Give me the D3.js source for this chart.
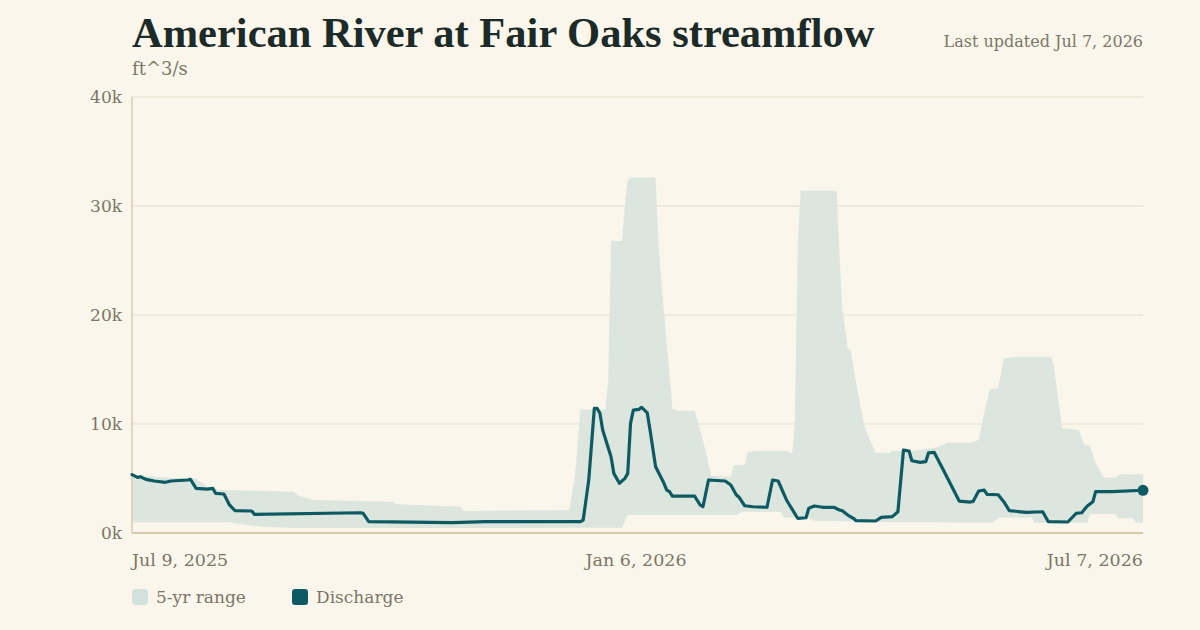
<!DOCTYPE html>
<html>
<head>
<meta charset="utf-8">
<script src="https://cdn.jsdelivr.net/npm/d3@7"></script>
<style>
  html, body { margin: 0; padding: 0; background: #faf6ec; }
  svg { display: block; }
</style>
</head>
<body>
<svg id="chart" width="1200" height="630"></svg>
<script>
// Discharge (ft^3/s)
const dischargeDates = [
  "2025-07-09","2025-07-11","2025-07-12","2025-07-14","2025-07-17","2025-07-21","2025-07-23","2025-07-29",
  "2025-07-30","2025-08-01","2025-08-05","2025-08-07","2025-08-08","2025-08-11","2025-08-13","2025-08-15",
  "2025-08-21","2025-08-22","2025-09-29","2025-09-30","2025-10-02","2025-11-01","2025-11-13","2025-12-17",
  "2025-12-18","2025-12-20","2025-12-22","2025-12-23","2025-12-24","2025-12-25","2025-12-28","2025-12-29",
  "2025-12-31","2026-01-02","2026-01-03","2026-01-04","2026-01-05","2026-01-07","2026-01-08","2026-01-10",
  "2026-01-11","2026-01-13","2026-01-16","2026-01-17","2026-01-18","2026-01-19","2026-01-27","2026-01-29",
  "2026-01-30","2026-02-01","2026-02-07","2026-02-09","2026-02-11","2026-02-12","2026-02-14","2026-02-17",
  "2026-02-22","2026-02-24","2026-02-26","2026-03-01","2026-03-05","2026-03-08","2026-03-09","2026-03-11",
  "2026-03-14","2026-03-18","2026-03-20","2026-03-21","2026-03-23","2026-03-25","2026-03-26","2026-04-02",
  "2026-04-04","2026-04-08","2026-04-10","2026-04-12","2026-04-14","2026-04-15","2026-04-18","2026-04-20",
  "2026-04-21","2026-04-23","2026-04-26","2026-05-02","2026-05-06","2026-05-07","2026-05-09","2026-05-11",
  "2026-05-12","2026-05-16","2026-05-18","2026-05-20","2026-05-26","2026-06-01","2026-06-03","2026-06-10",
  "2026-06-13","2026-06-15","2026-06-17","2026-06-19","2026-06-20","2026-06-26","2026-07-07"
];
const dischargeValues = [
  5350,5100,5160,4920,4770,4650,4770,4860,
  4920,4100,4030,4100,3640,3580,2570,2050,
  2020,1710,1860,1800,1040,950,1040,1040,
  1190,4860,11430,11430,10980,9440,7000,5470,
  4560,5010,5470,10060,11280,11340,11530,11030,
  9440,6080,4560,3940,3790,3390,3390,2570,
  2410,4860,4770,4400,3480,3270,2500,2410,
  2360,4860,4770,3030,1350,1400,2270,2480,
  2360,2360,2110,2050,1650,1350,1130,1100,
  1440,1500,1950,7610,7520,6630,6480,6540,
  7360,7400,5930,2930,2840,2900,3850,3940,
  3550,3510,2870,2050,1900,1950,1040,1010,
  1800,1860,2480,2870,3790,3790,3920
];

// 5-yr range, upper edge
const rangeHighDates = [
  "2025-07-09","2025-07-15","2025-07-24","2025-08-01","2025-08-05","2025-08-09","2025-09-05","2025-09-07",
  "2025-09-12","2025-10-11","2025-10-12","2025-11-04","2025-11-05","2025-12-13","2025-12-14","2025-12-15",
  "2025-12-17","2025-12-26","2025-12-27","2025-12-28","2026-01-01","2026-01-02","2026-01-03","2026-01-04",
  "2026-01-13","2026-01-14","2026-01-16","2026-01-18","2026-01-19","2026-01-21","2026-01-27","2026-01-30",
  "2026-02-02","2026-02-09","2026-02-10","2026-02-14","2026-02-15","2026-02-18","2026-03-01","2026-03-03",
  "2026-03-04","2026-03-05","2026-03-06","2026-03-19","2026-03-20","2026-03-21","2026-03-23","2026-03-24",
  "2026-03-26","2026-03-29","2026-03-31","2026-04-02","2026-04-07","2026-04-08","2026-04-15","2026-04-24",
  "2026-04-28","2026-05-06","2026-05-09","2026-05-11","2026-05-13","2026-05-16","2026-05-18","2026-05-23",
  "2026-06-04","2026-06-05","2026-06-08","2026-06-14","2026-06-16","2026-06-18","2026-06-20","2026-06-23",
  "2026-06-27","2026-06-29","2026-07-07"
];
const rangeHighValues = [
  5300,5200,5050,5010,4250,3940,3790,3390,
  3030,2870,2630,2410,2020,2110,3640,5160,
  11340,11340,14030,26800,26800,30230,32370,32620,
  32620,26570,20150,14650,11430,11220,11220,8530,
  5230,5160,6240,6240,7400,7520,7520,7310,
  10360,25650,31390,31390,25650,20750,16940,16780,
  13730,9750,8530,7360,7360,7520,7520,7860,
  8280,8280,8530,10980,13180,13270,16020,16170,
  16170,15250,9600,9440,8070,7980,6390,5070,
  5070,5380,5380
];

// 5-yr range, lower edge
const rangeLowDates = [
  "2025-07-09","2025-08-13","2025-08-17","2025-08-25","2025-09-05","2026-01-01","2026-01-03","2026-02-11",
  "2026-02-13","2026-02-27","2026-02-28","2026-03-09","2026-03-11","2026-04-04","2026-05-14","2026-05-16",
  "2026-05-28","2026-05-29","2026-06-17","2026-06-18","2026-06-27","2026-06-28","2026-07-03","2026-07-05",
  "2026-07-07"
];
const rangeLowValues = [
  980,980,800,580,450,480,1650,1650,
  1950,1950,1400,1400,1130,1000,950,1400,
  1400,950,950,1740,1740,1350,1350,950,
  950
];

const yTicks = [0, 10000, 20000, 30000, 40000];
const xTickDates = ["2025-07-09", "2026-01-06", "2026-07-07"];
const xTickLabels = ["Jul 9, 2025", "Jan 6, 2026", "Jul 7, 2026"];

const parse = d3.timeParse("%Y-%m-%d");
const discharge = dischargeDates.map((d, i) => ({ date: parse(d), value: dischargeValues[i] }));
const rangeHigh = rangeHighDates.map((d, i) => ({ date: parse(d), value: rangeHighValues[i] }));
const rangeLow = rangeLowDates.map((d, i) => ({ date: parse(d), value: rangeLowValues[i] }));

const svg = d3.select("#chart");
const margin = { left: 132, right: 57, top: 97, bottom: 97 };
const width = 1200, height = 630;

const x = d3.scaleTime()
  .domain([parse(xTickDates[0]), parse(xTickDates[2])])
  .range([margin.left, width - margin.right]);
const y = d3.scaleLinear()
  .domain([0, 40000])
  .range([height - margin.bottom, margin.top]);

const serif = "'DejaVu Serif', 'Liberation Serif', serif";
const textColor = "#7b7667";

// Grid
svg.append("g")
  .selectAll("line")
  .data(yTicks.filter(d => d > 0))
  .join("line")
  .attr("x1", margin.left)
  .attr("x2", width - margin.right)
  .attr("y1", d => y(d))
  .attr("y2", d => y(d))
  .attr("stroke", "#e8dfca")
  .attr("stroke-width", 1);

// 5-yr range band: upper edge forward, lower edge back
const band = rangeHigh.concat(rangeLow.slice().reverse());
svg.append("path")
  .attr("d", d3.line().x(d => x(d.date)).y(d => y(d.value))(band) + "Z")
  .attr("fill", "#dce6de");

// Axes lines
svg.append("line")
  .attr("x1", margin.left).attr("x2", margin.left)
  .attr("y1", y(40000)).attr("y2", y(0))
  .attr("stroke", "#d9cdb0").attr("stroke-width", 1.5);
svg.append("line")
  .attr("x1", margin.left).attr("x2", width - margin.right)
  .attr("y1", y(0)).attr("y2", y(0))
  .attr("stroke", "#d6c9a8").attr("stroke-width", 2);

// Discharge line
svg.append("path")
  .datum(discharge)
  .attr("d", d3.line().x(d => x(d.date)).y(d => y(d.value)))
  .attr("fill", "none")
  .attr("stroke", "#0e5a63")
  .attr("stroke-width", 3.2)
  .attr("stroke-linejoin", "round")
  .attr("stroke-linecap", "round");

const last = discharge[discharge.length - 1];
svg.append("circle")
  .attr("cx", x(last.date))
  .attr("cy", y(last.value))
  .attr("r", 5.5)
  .attr("fill", "#0e5a63");

// Y tick labels
svg.append("g")
  .selectAll("text")
  .data(yTicks)
  .join("text")
  .attr("x", margin.left - 10)
  .attr("y", d => y(d) + 6)
  .attr("text-anchor", "end")
  .attr("font-family", serif)
  .attr("font-size", 17)
  .attr("fill", textColor)
  .text(d => d === 0 ? "0k" : d3.format("d")(d / 1000) + "k");

// X tick labels
svg.append("g")
  .selectAll("text")
  .data(xTickDates)
  .join("text")
  .attr("x", d => x(parse(d)))
  .attr("y", 566)
  .attr("text-anchor", (d, i) => i === 0 ? "start" : i === 2 ? "end" : "middle")
  .attr("font-family", serif)
  .attr("font-size", 17.5)
  .attr("fill", textColor)
  .text((d, i) => xTickLabels[i]);

// Titles
svg.append("text")
  .attr("x", margin.left).attr("y", 47)
  .attr("font-family", "'Liberation Serif', serif")
  .attr("font-weight", "bold")
  .attr("font-size", 42.5)
  .attr("fill", "#1c2a28")
  .text("American River at Fair Oaks streamflow");

svg.append("text")
  .attr("x", margin.left).attr("y", 75)
  .attr("font-family", serif)
  .attr("font-size", 18)
  .attr("fill", textColor)
  .text("ft^3/s");

svg.append("text")
  .attr("x", width - margin.right).attr("y", 47)
  .attr("text-anchor", "end")
  .attr("font-family", serif)
  .attr("font-size", 16)
  .attr("fill", textColor)
  .text("Last updated Jul 7, 2026");

// Legend
const legend = [
  { label: "5-yr range", color: "#d3e2dc", x: 132 },
  { label: "Discharge", color: "#0e5a63", x: 292 }
];
const lg = svg.append("g").selectAll("g").data(legend).join("g")
  .attr("transform", d => `translate(${d.x},589)`);
lg.append("rect")
  .attr("width", 16).attr("height", 16).attr("rx", 3)
  .attr("fill", d => d.color);
lg.append("text")
  .attr("x", 24).attr("y", 14)
  .attr("font-family", serif)
  .attr("font-size", 17)
  .attr("fill", textColor)
  .text(d => d.label);
</script>
</body>
</html>
